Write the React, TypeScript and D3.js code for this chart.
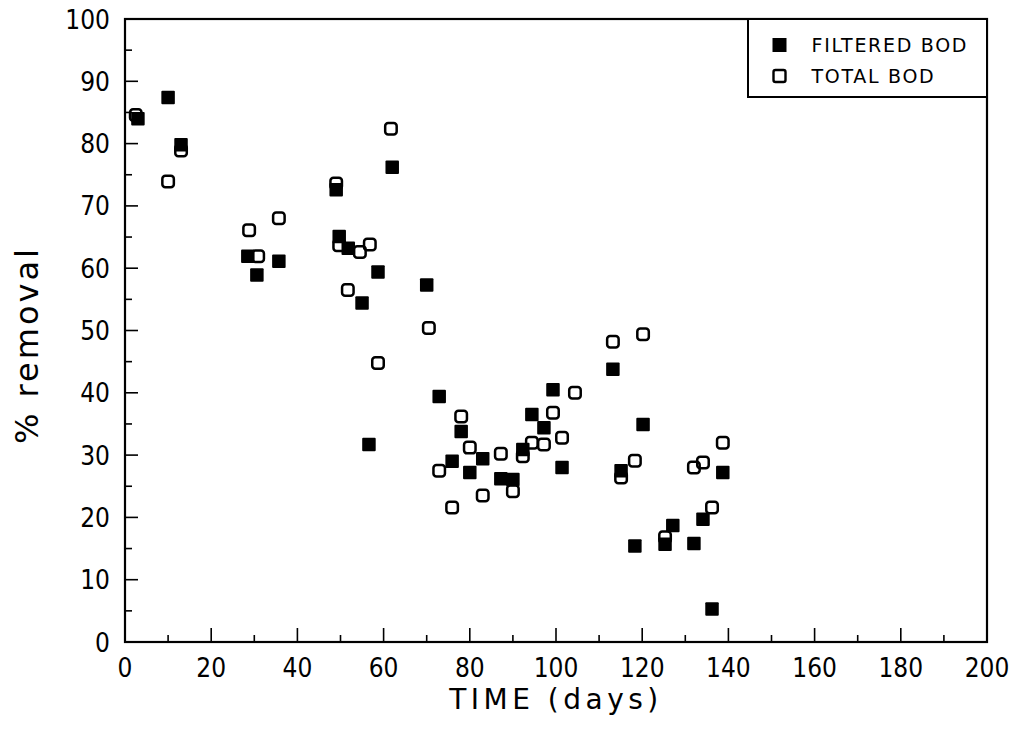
import React, { useEffect, useRef } from "react";
import * as d3 from "d3";

// day, % removal
const filteredDays = [3, 10, 13, 28.5, 30.6, 35.7, 49, 49.7, 51.8, 55, 56.6, 58.7, 62, 70, 72.9, 75.9, 78, 80, 83, 87.2, 90, 92.3, 94.4, 97.2, 99.3, 101.4, 113.2, 115.1, 118.3, 120.2, 125.3, 127.1, 132, 134.1, 136.2, 138.7];
const filteredRemoval = [84, 87.4, 79.8, 61.9, 58.9, 61.1, 72.6, 65.1, 63.2, 54.4, 31.7, 59.4, 76.2, 57.3, 39.4, 29.0, 33.8, 27.2, 29.4, 26.2, 26.1, 30.9, 36.5, 34.4, 40.5, 28, 43.8, 27.5, 15.4, 34.9, 15.7, 18.7, 15.8, 19.7, 5.3, 27.2];

const totalDays = [2.5, 10, 13, 28.8, 30.9, 35.7, 49, 49.7, 51.7, 54.5, 56.8, 58.7, 61.7, 70.5, 72.9, 75.9, 78, 80, 83, 87.2, 90, 92.3, 94.4, 97.2, 99.3, 101.4, 104.4, 113.2, 115.1, 118.3, 120.2, 125.3, 132, 134.1, 136.2, 138.7];
const totalRemoval = [84.6, 73.9, 78.9, 66.1, 61.9, 68.0, 73.6, 63.7, 56.5, 62.6, 63.8, 44.8, 82.4, 50.4, 27.5, 21.6, 36.2, 31.2, 23.5, 30.2, 24.2, 29.8, 32, 31.7, 36.8, 32.8, 40, 48.2, 26.4, 29.1, 49.4, 16.8, 28, 28.8, 21.6, 32];

const seriesNames = ["FILTERED BOD", "TOTAL BOD"];
const xTicks = [0, 20, 40, 60, 80, 100, 120, 140, 160, 180, 200];
const yTicks = [0, 10, 20, 30, 40, 50, 60, 70, 80, 90, 100];

const App = () => {
  const svgRef = useRef<SVGSVGElement>(null);

  useEffect(() => {
    const width = 1021;
    const height = 732;
    const margin = { top: 19, right: 34, bottom: 90, left: 125 };
    const font = "'DejaVu Sans', sans-serif";
    const narrow = "'DejaVu Sans Condensed', 'DejaVu Sans', sans-serif";

    const svg = d3.select(svgRef.current).attr("width", width).attr("height", height);
    svg.selectAll("*").remove();

    const x = d3.scaleLinear().domain([0, 200]).range([margin.left, width - margin.right]);
    const y = d3.scaleLinear().domain([0, 100]).range([height - margin.bottom, margin.top]);

    const g = svg.append("g");

    // ticks, pointing inward
    const xMinor = d3.range(10, 200, 20);
    g.selectAll(".xmaj")
      .data(xTicks.slice(1, -1))
      .enter()
      .append("line")
      .attr("x1", (d) => x(d))
      .attr("x2", (d) => x(d))
      .attr("y1", y(0))
      .attr("y2", y(0) - 14)
      .attr("stroke", "#000")
      .attr("stroke-width", 1.6);
    g.selectAll(".xmin")
      .data(xMinor)
      .enter()
      .append("line")
      .attr("x1", (d) => x(d))
      .attr("x2", (d) => x(d))
      .attr("y1", y(0))
      .attr("y2", y(0) - 7)
      .attr("stroke", "#000")
      .attr("stroke-width", 1.6);

    const yMinor = d3.range(5, 100, 10);
    g.selectAll(".ymaj")
      .data(yTicks.slice(1, -1))
      .enter()
      .append("line")
      .attr("x1", x(0))
      .attr("x2", x(0) + 13)
      .attr("y1", (d) => y(d))
      .attr("y2", (d) => y(d))
      .attr("stroke", "#000")
      .attr("stroke-width", 1.6);
    g.selectAll(".ymin")
      .data(yMinor)
      .enter()
      .append("line")
      .attr("x1", x(0))
      .attr("x2", x(0) + 7)
      .attr("y1", (d) => y(d))
      .attr("y2", (d) => y(d))
      .attr("stroke", "#000")
      .attr("stroke-width", 1.6);

    // frame
    g.append("rect")
      .attr("x", x(0))
      .attr("y", y(100))
      .attr("width", x(200) - x(0))
      .attr("height", y(0) - y(100))
      .attr("fill", "none")
      .attr("stroke", "#000")
      .attr("stroke-width", 2.2);

    // tick labels
    g.selectAll(".xlab")
      .data(xTicks)
      .enter()
      .append("text")
      .attr("x", (d) => x(d))
      .attr("y", y(0) + 35)
      .attr("text-anchor", "middle")
      .attr("font-family", narrow)
      .attr("font-size", 26)
      .text((d) => d);
    g.selectAll(".ylab")
      .data(yTicks)
      .enter()
      .append("text")
      .attr("x", x(0) - 15)
      .attr("y", (d) => y(d) + 9.5)
      .attr("text-anchor", "end")
      .attr("font-family", narrow)
      .attr("font-size", 26)
      .text((d) => d);

    // axis titles
    g.append("text")
      .attr("x", (x(0) + x(200)) / 2)
      .attr("y", 709)
      .attr("text-anchor", "middle")
      .attr("font-family", font)
      .attr("font-size", 28)
      .attr("letter-spacing", 4.5)
      .text("TIME (days)");
    g.append("text")
      .attr("transform", "translate(38,345) rotate(-90)")
      .attr("text-anchor", "middle")
      .attr("font-family", font)
      .attr("font-size", 32)
      .attr("letter-spacing", 3)
      .text("% removal");

    const so = 11.5;
    const sf = 13.5;
    const total = d3.zip(totalDays, totalRemoval);
    const filtered = d3.zip(filteredDays, filteredRemoval);

    g.selectAll(".tot")
      .data(total)
      .enter()
      .append("rect")
      .attr("x", (d) => x(d[0]) - so / 2)
      .attr("y", (d) => y(d[1]) - so / 2)
      .attr("width", so)
      .attr("height", so)
      .attr("rx", 3)
      .attr("fill", "none")
      .attr("stroke", "#000")
      .attr("stroke-width", 2.5);

    g.selectAll(".fil")
      .data(filtered)
      .enter()
      .append("rect")
      .attr("x", (d) => x(d[0]) - sf / 2)
      .attr("y", (d) => y(d[1]) - sf / 2)
      .attr("width", sf)
      .attr("height", sf)
      .attr("rx", 1)
      .attr("fill", "#000");

    // legend
    const lx = 748;
    g.append("rect")
      .attr("x", lx)
      .attr("y", y(100))
      .attr("width", x(200) - lx)
      .attr("height", 78)
      .attr("fill", "#fff")
      .attr("stroke", "#000")
      .attr("stroke-width", 2);
    const items = g
      .selectAll(".leg")
      .data(seriesNames)
      .enter()
      .append("g")
      .attr("transform", (d, i) => `translate(${lx + 31.5},${45 + i * 31})`);
    items
      .append("rect")
      .attr("x", (d, i) => (i === 0 ? -7 : -6))
      .attr("y", (d, i) => (i === 0 ? -7 : -6))
      .attr("width", (d, i) => (i === 0 ? 14 : 12))
      .attr("height", (d, i) => (i === 0 ? 14 : 12))
      .attr("rx", (d, i) => (i === 0 ? 0 : 2))
      .attr("fill", (d, i) => (i === 0 ? "#000" : "none"))
      .attr("stroke", "#000")
      .attr("stroke-width", (d, i) => (i === 0 ? 0 : 2.4));
    items
      .append("text")
      .attr("x", 32)
      .attr("y", 7)
      .attr("font-family", font)
      .attr("font-size", 19)
      .attr("letter-spacing", 1.7)
      .text((d) => d);
  }, []);

  return <svg ref={svgRef} style={{ position: "absolute", left: 0, top: 0, background: "#fff" }}></svg>;
};

export default App;
